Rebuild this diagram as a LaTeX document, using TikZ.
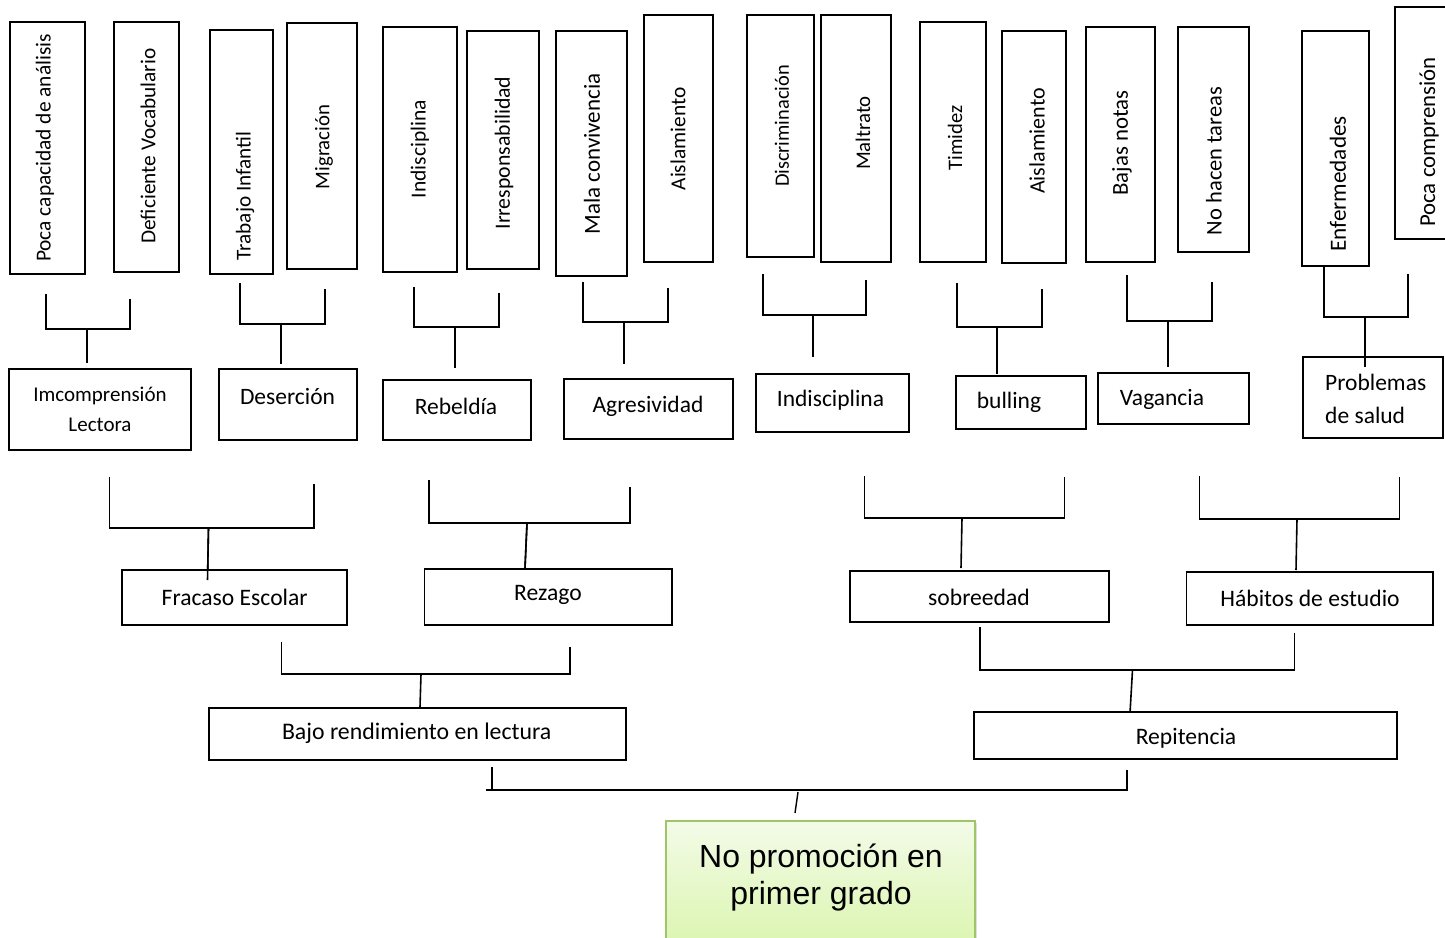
\documentclass[tikz,border=0pt]{standalone}
\usepackage{fontspec}
\setmainfont{Carlito}
\newfontfamily\arialf{Liberation Sans}
\usetikzlibrary{shadows}
\definecolor{gtop}{RGB}{243,251,232}
\definecolor{gbot}{RGB}{214,244,164}
\definecolor{gline}{RGB}{160,196,104}
\newcommand\fs[1]{\fontsize{#1}{#1}\selectfont}
\newcommand\Bx[5]{\node[box, minimum width={#4-#2}, minimum height={#5-#3}] (#1) at ({(#2+#4)/2},{(#3+#5)/2}) {};}
\newcommand\Vt[5]{\node[lbl, rotate=90, font={\fs{#2}}] (#1) at (#3,#4) {#5};}
\newcommand\Ht[5]{\node[lbl, font={\fs{#2}}] (#1) at (#3,#4) {#5};}
\newcommand\Brk[9]{%
  \coordinate (#1l) at (#2,#3);
  \coordinate (#1r) at (#4,#5);
  \coordinate (#1h) at (#7,#6);
  \coordinate (#1s) at (#8,#9);
  \draw[link] (#1l) -- (#2,#6) -- (#4,#6) -- (#1r);
  \draw[link] (#1h) -- (#1s);
}
\tikzset{
  box/.style={draw, line width=1.5pt, inner sep=0pt, fill=white},
  lbl/.style={inner sep=0pt},
  link/.style={line width=1.6pt},
}
\begin{document}
\begin{tikzpicture}[x=1pt,y=-1pt]
\fill[white] (0,0) rectangle (1445,937);
\clip (0,0) rectangle (1445,937);
% top row
\Bx{b1}{10}{22}{85}{274}\Vt{b1t}{21.4}{45}{148}{Poca capacidad de análisis}
\Bx{b2}{114}{22}{179}{272}\Vt{b2t}{21.3}{148}{146}{Deficiente Vocabulario}
\Bx{b3}{210}{30}{273}{274}\Vt{b3t}{21.2}{245}{196}{Trabajo Infantil}
\Bx{b4}{287}{23}{357}{269}\Vt{b4t}{20.8}{324}{147}{Migración}
\Bx{b5}{383}{27}{457}{272}\Vt{b5t}{21.5}{420}{149}{Indisciplina}
\Bx{b6}{467}{31}{539}{269}\Vt{b6t}{21.8}{504}{153}{Irresponsabilidad}
\Bx{b7}{556}{31}{627}{276}\Vt{b7t}{23}{592}{154}{Mala convivencia}
\Bx{b8}{644}{15}{713}{262}\Vt{b8t}{21.4}{678}{139}{Aislamiento}
\Bx{b9}{747}{15}{814}{257}\Vt{b9t}{20.4}{782}{126}{Discriminación}
\Bx{b10}{821}{15}{891}{262}\Vt{b10t}{20.8}{863}{133}{Maltrato}
\Bx{b11}{920}{22}{986}{262}\Vt{b11t}{20.6}{955}{138}{Timidez}
\Bx{b12}{1002}{31}{1066}{263}\Vt{b12t}{22}{1037}{141}{Aislamiento}
\Bx{b13}{1086}{27}{1155}{262}\Vt{b13t}{22.8}{1122}{143}{Bajas notas}
\Bx{b14}{1178}{27}{1249}{252}\Vt{b14t}{22.5}{1214}{161}{No hacen tareas}
\Bx{b15}{1302}{31}{1369}{266}\Vt{b15t}{23.2}{1338}{184}{Enfermedades}
\Bx{b16}{1395}{7}{1462}{239}\Vt{b16t}{22.8}{1429}{142}{Poca comprensión}
% top brackets
\Brk{kA}{46}{294}{130}{299}{329}{87}{87}{363}
\Brk{kB}{240}{283}{325}{289}{324}{281}{281}{364}
\Brk{kC}{414}{287}{499}{293}{327}{455}{455}{368}
\Brk{kD}{583}{282}{668}{288}{322}{624}{624}{364}
\Brk{kE}{763}{274}{866}{280}{315}{813}{813}{357}
\Brk{kF}{957}{283}{1042}{289}{327}{997}{997}{374}
\Brk{kG}{1127}{275}{1212}{282}{321}{1168}{1168}{367}
\Brk{kH}{1324}{266}{1408}{274}{317}{1365}{1365}{367}
% middle row
\Bx{m1}{9}{369}{191}{450}
\node[lbl, font={\fontsize{21}{30}\selectfont}, align=center] (m1t) at (100,409) {Imcomprensión\\Lectora};
\Bx{m2}{219}{369}{357}{440}\Ht{m2t}{23.5}{287.5}{396}{Deserción}
\Bx{m3}{383}{380}{531}{440}\Ht{m3t}{23.5}{456}{406}{Rebeldía}
\Bx{m4}{564}{379}{733}{439}\Ht{m4t}{23.5}{648}{406}{Agresividad}
\Bx{m5}{756}{374}{909}{432}\Ht{m5t}{23.5}{830.5}{400}{Indisciplina}
\Bx{m6}{956}{376}{1086}{429}\Ht{m6t}{23.5}{1009}{402}{bulling}
\Bx{m7}{1098}{373}{1249}{424}\Ht{m7t}{23.5}{1162}{399}{Vagancia}
\Bx{m8}{1303}{357}{1443}{438}
\node[lbl, font={\fontsize{23.5}{33}\selectfont}, align=left, anchor=west] (m8t) at (1325,399) {Problemas\\de salud};
% stem overlapping the box
\draw[link] (kHh) -- (kHs);
% lower brackets
\Brk{kI}{109.5}{477}{313.7}{484}{528}{208.5}{207.5}{580}
\Brk{kJ}{429}{480}{629.7}{487}{523}{527}{525}{568}
\Brk{kM}{864.5}{476}{1064.6}{477}{518}{962}{961}{568}
\Brk{kN}{1199.5}{476}{1399.6}{477}{519}{1297}{1296}{570}
% lower row
\Bx{l1}{122}{570}{347}{625}\Ht{l1t}{23.6}{234.7}{597}{Fracaso Escolar}
\Bx{l2}{424.5}{569}{672}{625}\Ht{l2t}{23.6}{548}{595}{Rezago}
\Bx{l3}{850}{571}{1109}{622}\Ht{l3t}{23.6}{979}{597}{sobreedad}
\Bx{l4}{1186.5}{572}{1433}{625}\Ht{l4t}{23.6}{1310}{598}{Hábitos de estudio}
\draw[link] (kIh) -- (kIs);
\draw[link] (kJh) -- (kJs);
% bottom brackets
\Brk{kK}{281.6}{642}{569.8}{647}{674}{421}{420}{707}
\Brk{kO}{979.7}{627}{1294.4}{633}{670}{1132.5}{1130}{713}
\Bx{r1}{209}{708}{626}{760}\Ht{r1t}{23.8}{416.7}{733}{Bajo rendimiento en lectura}
\Bx{r2}{974}{712}{1397}{759}\Ht{r2t}{23.6}{1186}{738}{Repitencia}
% final bracket
\coordinate (kPl) at (491.7,767);
\coordinate (kPr) at (1127,770);
\coordinate (kPh) at (798,792);
\coordinate (kPs) at (795,813);
\draw[link] (kPl) -- (491.7,790);
\draw[link] (486,790) -- (1128,790);
\draw[link] (kPr) -- (1127,790);
\draw[line width=1.4pt] (kPh) -- (kPs);
% root
\node[draw=gline, line width=1.3pt, top color=gtop, bottom color=gbot,
  minimum width=309, minimum height=150, inner sep=0pt,
  drop shadow={shadow xshift=1.5pt, shadow yshift=-1.5pt, opacity=0.25}] (root) at (820.5,896) {};
\node[lbl, font={\arialf\fontsize{32}{37}\selectfont}, align=center] (roott) at (821,878) {No promoción en\\primer grado};
\end{tikzpicture}
\end{document}
